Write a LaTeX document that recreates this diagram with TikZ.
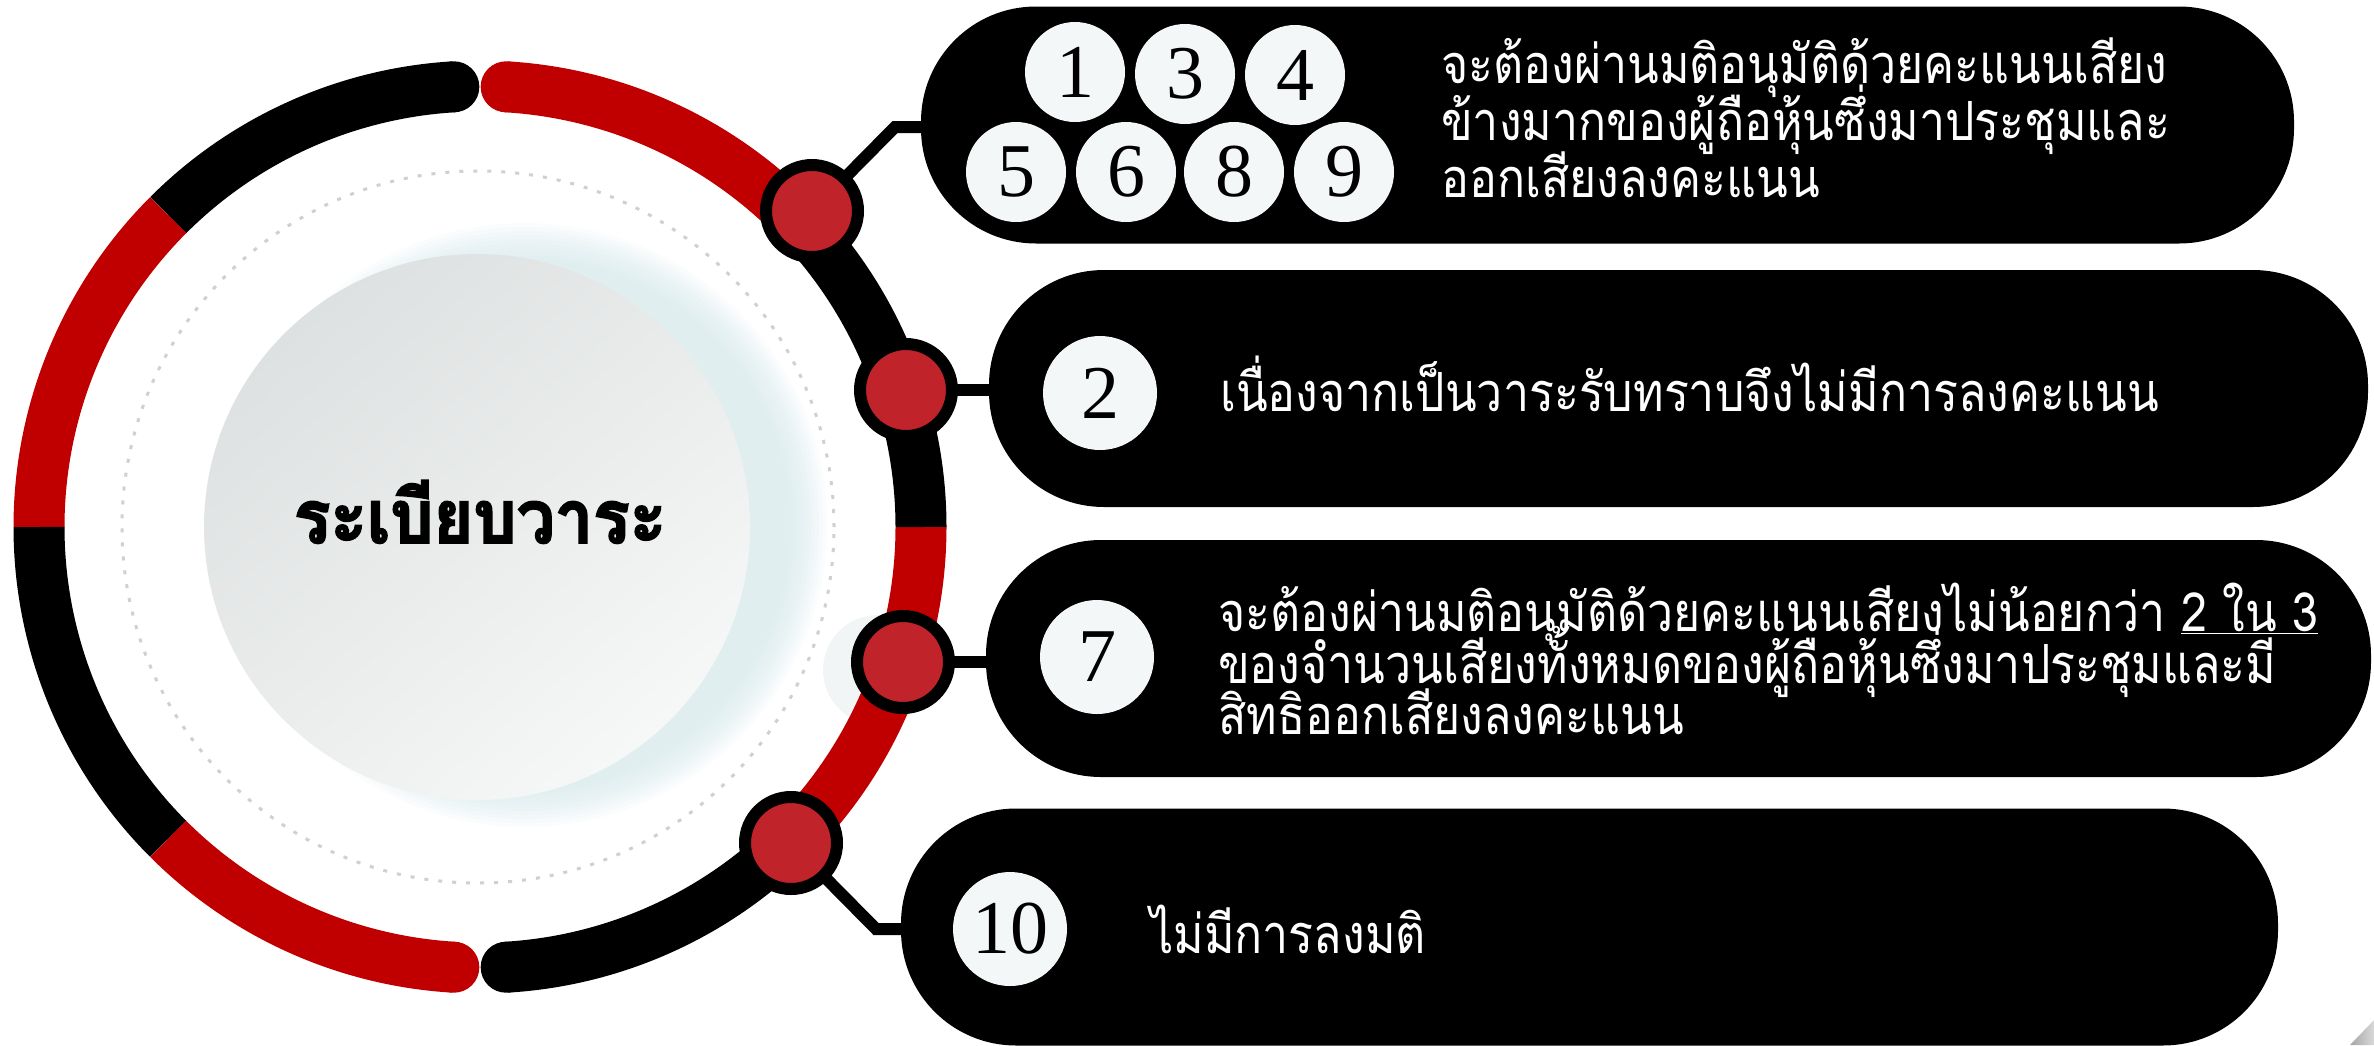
\documentclass[tikz,border=0pt]{standalone}
\usepackage{fontspec}
\newfontfamily\thaifont[Script=Thai, FakeStretch=0.86]{Loma}
\newfontfamily\titlefont[Script=Thai, FakeStretch=0.92, BoldFeatures={FakeBold=2.6}]{Loma}
\newfontfamily\numfont{Liberation Serif}
\usetikzlibrary{calc}
\definecolor{ringred}{HTML}{C00000}
\definecolor{dotred}{HTML}{C1232A}
\definecolor{numfill}{HTML}{F4F7F8}
\definecolor{glowc}{HTML}{D2E6E9}
\definecolor{innerA}{HTML}{DEE1E1}
\definecolor{innerB}{HTML}{F6F7F7}
\definecolor{dotgray}{HTML}{D0D0D0}
\definecolor{faintc}{HTML}{F1F5F6}
\pgfdeclarelayer{back}
\pgfdeclarelayer{mid}
\pgfsetlayers{back,mid,main}
\tikzset{
  ringseg/.style={line width=51pt},
  pill/.style={fill=black, rounded corners=115pt, inner sep=0pt, minimum height=237pt},
  dotnode/.style={circle, fill=dotred, draw=black, line width=12pt, minimum size=92pt, inner sep=0pt},
  numsmall/.style={circle, fill=numfill, minimum size=100pt, inner sep=0pt, font=\fontsize{76}{76}\numfont},
  numbig/.style={circle, fill=numfill, minimum size=114pt, inner sep=0pt, font=\fontsize{76}{76}\numfont},
  conn/.style={line width=12pt, black},
  pilltext/.style={anchor=base west, inner sep=0pt, text=white, font=\fontsize{54}{60}\thaifont},
}
\begin{document}
\begin{tikzpicture}[x=1pt,y=1pt]
\useasboundingbox (0,0) rectangle (2374,-1045);
\coordinate (C) at (480,-527);

% ---------- nodes ----------
\node[pill, minimum width=1373pt] (p1) at (1607.5,-125) {};
\node[pill, minimum width=1379pt] (p2) at (1678.5,-388.5) {};
\node[pill, minimum width=1385pt] (p3) at (1678.5,-658.5) {};
\node[pill, minimum width=1377pt] (p4) at (1589.5,-927) {};

\node[dotnode] (d1) at (812,-211) {};
\node[dotnode] (d2) at (906,-390) {};
\node[dotnode] (d3) at (903,-662) {};
\node[dotnode] (d4) at (791,-843) {};

\node[numsmall] (n1) at (1075,-72) {1};
\node[numsmall] (n3) at (1185,-74) {3};
\node[numsmall] (n4) at (1295,-75) {4};
\node[numsmall] (n5) at (1016,-172) {5};
\node[numsmall] (n6) at (1126,-172) {6};
\node[numsmall] (n8) at (1234,-172) {8};
\node[numsmall] (n9) at (1344,-172) {9};
\node[numbig] (n2) at (1100,-393) {2};
\node[numbig] (n7) at (1097,-657) {7};
\node[numbig] (n10) at (1010,-929) {10};

\node[pilltext] (t1a) at (1441,-83) {จะต้องผ่านมติอนุมัติด้วยคะแนนเสียง};
\node[pilltext] (t1b) at (1441,-140) {ข้างมากของผู้ถือหุ้นซึ่งมาประชุมและ};
\node[pilltext] (t1c) at (1441,-197) {ออกเสียงลงคะแนน};
\node[pilltext] (t2) at (1220,-411) {เนื่องจากเป็นวาระรับทราบจึงไม่มีการลงคะแนน};
\node[pilltext] (t3a) at (1218,-631) {จะต้องผ่านมติอนุมัติด้วยคะแนนเสียงไม่น้อยกว่า \underline{2 ใน 3}};
\node[pilltext] (t3b) at (1218,-683) {ของจำนวนเสียงทั้งหมดของผู้ถือหุ้นซึ่งมาประชุมและมี};
\node[pilltext] (t3c) at (1218,-734) {สิทธิออกเสียงลงคะแนน};
\node[pilltext] (t4) at (1150,-953) {ไม่มีการลงมติ};

\node[anchor=base, inner sep=0pt, font=\fontsize{74}{74}\titlefont\bfseries] (title) at (480,-543) {ระเบียบวาระ};

% ---------- connectors ----------
\begin{pgfonlayer}{mid}
\coordinate (k1) at (895,-127);
\coordinate (k4) at (876,-929);
\draw[conn] (d1.center) -- (k1) -- (k1 -| p1.west);
\draw[conn] (d2.center) -- (d2 -| p2.west);
\draw[conn] (d3.center) -- (d3 -| p3.west);
\draw[conn] (d4.center) -- (k4) -- (k4 -| p4.west);
\end{pgfonlayer}

% ---------- background ring ----------
\begin{pgfonlayer}{back}
% glow
\foreach \k in {1,...,10}{
  \fill[glowc, opacity=0.11] ($(C)+(45,2)$) circle[radius={262+4*\k}];
}
% inner disk
\shade[top color=innerA, bottom color=innerB, shading angle=40] (477,-527) circle[radius=273];
% dotted circle
\draw[dotgray, line width=3pt, dash pattern=on 4pt off 10pt] (478,-527) circle[radius=356];
% faint circle
\fill[faintc] (878,-670) circle[radius=55];
% ring segments
\draw[ringseg, black]   ($(C)+(93.4:441)$)  arc[start angle=93.4, end angle=135, radius=441];
\draw[ringseg, ringred] ($(C)+(135:441)$)   arc[start angle=135, end angle=180, radius=441];
\draw[ringseg, black]   ($(C)+(180:441)$)   arc[start angle=180, end angle=225, radius=441];
\draw[ringseg, ringred] ($(C)+(225:441)$)   arc[start angle=225, end angle=266.6, radius=441];
\draw[ringseg, black]   ($(C)+(273.4:441)$) arc[start angle=273.4, end angle=315, radius=441];
\draw[ringseg, ringred] ($(C)+(315:441)$)   arc[start angle=315, end angle=360, radius=441];
\draw[ringseg, black]   ($(C)+(0:441)$)     arc[start angle=0, end angle=45, radius=441];
\draw[ringseg, ringred] ($(C)+(45:441)$)    arc[start angle=45, end angle=86.6, radius=441];
% round caps at the gaps
\fill[black]   ($(C)+(93.4:441)$)  circle[radius=25.5];
\fill[ringred] ($(C)+(86.6:441)$)  circle[radius=25.5];
\fill[ringred] ($(C)+(266.6:441)$) circle[radius=25.5];
\fill[black]   ($(C)+(273.4:441)$) circle[radius=25.5];
% corner artefact
\shade[left color=gray!70, right color=gray!30] (2374,-1020) -- (2374,-1045) -- (2350,-1045) -- cycle;
\end{pgfonlayer}
\end{tikzpicture}
\end{document}
